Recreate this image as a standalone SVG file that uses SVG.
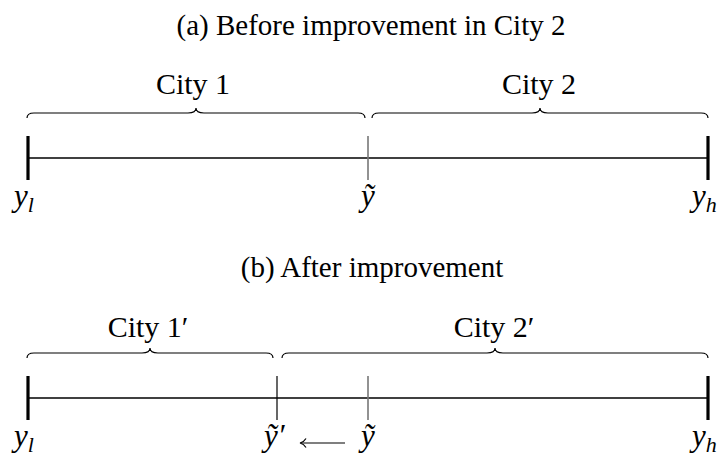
<svg xmlns="http://www.w3.org/2000/svg" width="724" height="463" viewBox="0 0 724 463">
<style>
text{font-family:"Liberation Serif","Times New Roman",serif;fill:#000}
.t{font-size:29px;text-anchor:middle}
.c{font-size:30px;text-anchor:middle}
.m{font-size:31px;font-style:italic}
.s{font-size:22px;font-style:italic}
.axis{stroke:#000;stroke-width:1.3;fill:none}
.end{stroke:#000;stroke-width:3.2}
.mid{stroke:#777;stroke-width:1.6}
.tk{stroke:#000;stroke-width:1.2}
.br{stroke:#000;stroke-width:1.2;fill:none}
</style>
<rect width="724" height="463" fill="#fff"/>
<text id="titleA" class="t" x="371" y="35">(a) Before improvement in City 2</text>
<text id="titleB" class="t" x="372" y="277">(b) After improvement</text>

<g id="panelA">
  <line class="axis" x1="28" y1="158" x2="708" y2="158"/>
  <line class="end" x1="28" y1="136" x2="28" y2="180"/>
  <line class="end" x1="708" y1="136" x2="708" y2="180"/>
  <line class="mid" x1="368" y1="136" x2="368" y2="180"/>
  <g id="city1">
    <path class="br" d="M27,118 C27,115 29,113 34,113 L188,113 C194,113 196,111 196,108 C196,111 198,113 204,113 L358,113 C363,113 365,115 365,118"/>
    <text class="c" x="193" y="94">City 1</text>
  </g>
  <g id="city2">
    <path class="br" d="M372,118 C372,115 374,113 379,113 L532,113 C538,113 540,111 540,108 C540,111 542,113 548,113 L701,113 C706,113 708,115 708,118"/>
    <text class="c" x="539" y="94">City 2</text>
  </g>
  <text class="m" x="14" y="206">y<tspan class="s" dy="6">l</tspan></text>
  <text class="m" x="368" y="206" text-anchor="middle">ỹ</text>
  <text class="m" x="692" y="206">y<tspan class="s" dy="6">h</tspan></text>
</g>

<g id="panelB">
  <line class="axis" x1="28" y1="398" x2="708" y2="398"/>
  <line class="end" x1="28" y1="376" x2="28" y2="420"/>
  <line class="end" x1="708" y1="376" x2="708" y2="420"/>
  <line class="tk" x1="277" y1="376" x2="277" y2="420"/>
  <line class="mid" x1="368" y1="376" x2="368" y2="420"/>
  <g id="city1p">
    <path class="br" d="M27,358 C27,355 29,353 34,353 L142,353 C148,353 150,351 150,348 C150,351 152,353 158,353 L266,353 C271,353 273,355 273,358"/>
    <text class="c" x="148" y="337">City 1′</text>
  </g>
  <g id="city2p">
    <path class="br" d="M282,358 C282,355 284,353 289,353 L487,353 C493,353 495,351 495,348 C495,351 497,353 503,353 L701,353 C706,353 708,355 708,358"/>
    <text class="c" x="494" y="337">City 2′</text>
  </g>
  <text class="m" x="14" y="446">y<tspan class="s" dy="6">l</tspan></text>
  <text class="m" x="264" y="446">ỹ′</text>
  <g id="shift">
    <line class="tk" x1="301" y1="443" x2="345" y2="443"/>
    <path class="tk" fill="none" d="M306,438.5 Q304,442 300,443 Q304,444 306,447.5"/>
  </g>
  <text class="m" x="368" y="446" text-anchor="middle">ỹ</text>
  <text class="m" x="692" y="446">y<tspan class="s" dy="6">h</tspan></text>
</g>
</svg>
